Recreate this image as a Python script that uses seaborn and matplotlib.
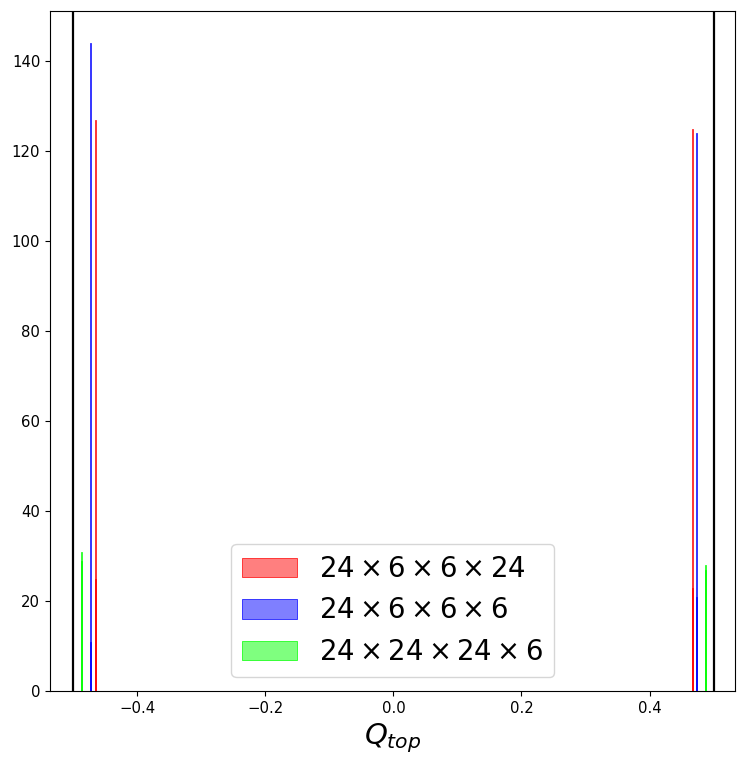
import matplotlib
matplotlib.use("Agg")
import matplotlib.pyplot as plt
import seaborn as sns
import pandas as pd
import numpy as np

# ---- data ----
labels = [r"$24\times6\times6\times24$", r"$24\times6\times6\times6$", r"$24\times24\times24\times6$"]
colors = ["red", "blue", "lime"]

red_pos = [-0.4655, 0.4660]
red_counts = [127, 125]
red_overlap = [25, 23]

blue_pos = [-0.4730, 0.4725]
blue_counts = [144, 124]
blue_overlap = [11, 21]

green_pos = [-0.4870, 0.4865]
green_counts = [31, 28]
green_overlap = [29, 27]

bounds = [-0.5, 0.5]
xticks = [-0.4, -0.2, 0.0, 0.2, 0.4]
yticks = [0, 20, 40, 60, 80, 100, 120, 140]

series = [
    (red_pos, red_counts, red_overlap),
    (blue_pos, blue_counts, blue_overlap),
    (green_pos, green_counts, green_overlap),
]

fig = plt.figure(figsize=(7.47, 7.65), dpi=100)
ax = fig.add_axes([50 / 747, 1 - 691 / 765, (735.3 - 50) / 747, (691 - 10.7) / 765])

binwidth = 0.002
for (pos, cnt, ovl), col, lab in zip(series, colors, labels):
    df = pd.DataFrame({"q": pos, "w": cnt})
    sns.histplot(data=df, x="q", weights="w", binwidth=binwidth, binrange=(-0.5, 0.5),
                 color=col, alpha=0.5, edgecolor=col, linewidth=0.5, label=lab, ax=ax)
    df2 = pd.DataFrame({"q": pos, "w": ovl})
    sns.histplot(data=df2, x="q", weights="w", binwidth=binwidth, binrange=(-0.5, 0.5),
                 color=col, alpha=0.5, edgecolor=col, linewidth=0.5, ax=ax)

for b in bounds:
    ax.axvline(b, color="black", lw=1.6)

ax.set_xlim(-0.5365, 0.534)
ax.set_ylim(0, 151.2)
ax.set_xticks(xticks)
ax.set_yticks(yticks)
ax.tick_params(labelsize=10.7)
ax.set_ylabel("")
ax.set_xlabel(r"$Q_{top}$", fontsize=21)

ax.legend(loc="lower center", fontsize=19.8)

fig.savefig("out.png", dpi=100)
